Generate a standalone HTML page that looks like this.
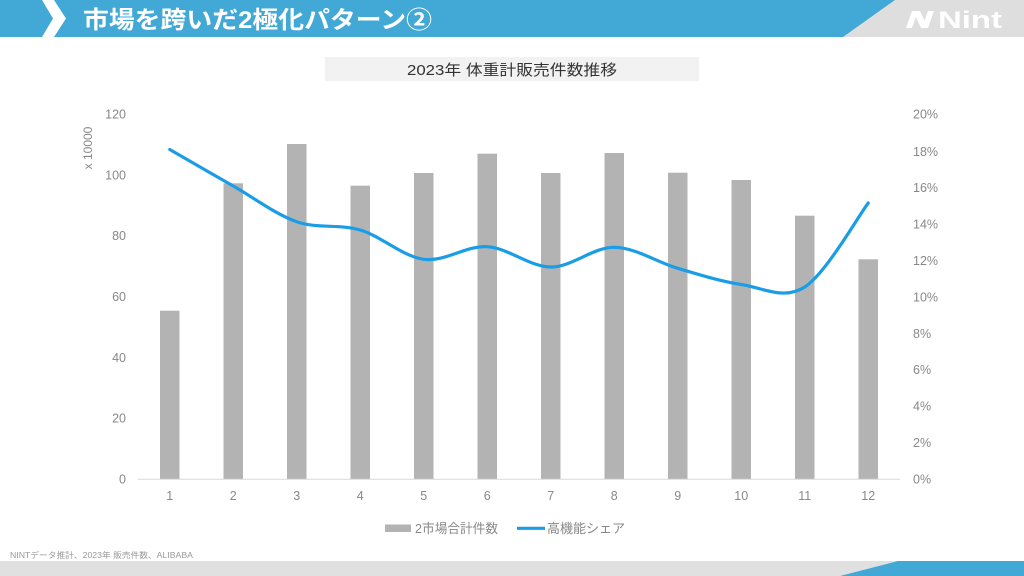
<!DOCTYPE html>
<html>
<head>
<meta charset="utf-8">
<style>
html,body{margin:0;padding:0;background:#fff;}
svg{display:block;}
text{font-family:"Liberation Sans","Noto Sans CJK JP",sans-serif;}
</style>
</head>
<body>
<svg width="1024" height="576" viewBox="0 0 1024 576" xmlns="http://www.w3.org/2000/svg">
  <!-- Header -->
  <rect x="0" y="0" width="1024" height="37" fill="#42a8d5"/>
  <polygon points="895,0 1024,0 1024,37 843,37" fill="#dedede"/>
  <polygon points="42,0 54,0 66,18.5 54,37 42,37 53,18.5" fill="#ffffff"/>
  <text x="83" y="28" font-size="24" font-weight="bold" fill="#ffffff" textLength="349" lengthAdjust="spacingAndGlyphs">市場を跨いだ2極化パターン②</text>
  <!-- Nint logo -->
  <g fill="#ffffff">
    <polygon points="906,28 912,11 918,11 912,28"/>
    <polygon points="913,11 920,11 928,28 921,28"/>
    <polygon points="922,28 928,11 934,11 928,28"/>
  </g>
  <text x="938" y="28" font-size="24" font-weight="bold" fill="#ffffff" textLength="64" lengthAdjust="spacingAndGlyphs">Nint</text>

  <!-- Chart title -->
  <rect x="325" y="57" width="374" height="24" fill="#f2f2f2"/>
  <text x="512" y="75" font-size="15" fill="#333333" text-anchor="middle" textLength="210" lengthAdjust="spacingAndGlyphs">2023年 体重計販売件数推移</text>

  <!-- Left axis labels -->
  <g font-size="12.5" fill="#888888" text-anchor="end">
    <text x="126" y="483.5">0</text>
    <text x="126" y="422.7">20</text>
    <text x="126" y="361.8">40</text>
    <text x="126" y="301">60</text>
    <text x="126" y="240.2">80</text>
    <text x="126" y="179.3">100</text>
    <text x="126" y="118.5">120</text>
  </g>
  <text transform="translate(92,148) rotate(-90)" font-size="12" fill="#888888" text-anchor="middle">x 10000</text>

  <!-- Right axis labels -->
  <g font-size="12.5" fill="#888888" text-anchor="start">
    <text x="913" y="483.5">0%</text>
    <text x="913" y="447">2%</text>
    <text x="913" y="410.6">4%</text>
    <text x="913" y="374.2">6%</text>
    <text x="913" y="337.8">8%</text>
    <text x="913" y="301.4">10%</text>
    <text x="913" y="265">12%</text>
    <text x="913" y="228.6">14%</text>
    <text x="913" y="192.2">16%</text>
    <text x="913" y="155.8">18%</text>
    <text x="913" y="118.5">20%</text>
  </g>

  <!-- Bars -->
  <g fill="#b3b3b3">
    <rect x="160" y="310.7" width="19.5" height="168.3"/>
    <rect x="223.5" y="183.3" width="19.5" height="295.7"/>
    <rect x="287" y="144" width="19.5" height="335"/>
    <rect x="350.5" y="185.7" width="19.5" height="293.3"/>
    <rect x="414" y="173" width="19.5" height="306"/>
    <rect x="477.5" y="153.7" width="19.5" height="325.3"/>
    <rect x="541" y="173" width="19.5" height="306"/>
    <rect x="604.5" y="153" width="19.5" height="326"/>
    <rect x="668" y="172.7" width="19.5" height="306.3"/>
    <rect x="731.5" y="180" width="19.5" height="299"/>
    <rect x="795" y="215.7" width="19.5" height="263.3"/>
    <rect x="858.5" y="259.3" width="19.5" height="219.7"/>
  </g>

  <!-- Baseline -->
  <line x1="138" y1="479.2" x2="900" y2="479.2" stroke="#d9d9d9" stroke-width="1"/>

  <!-- X labels -->
  <g font-size="12.5" fill="#888888" text-anchor="middle">
    <text x="169.75" y="500">1</text>
    <text x="233.25" y="500">2</text>
    <text x="296.75" y="500">3</text>
    <text x="360.25" y="500">4</text>
    <text x="423.75" y="500">5</text>
    <text x="487.25" y="500">6</text>
    <text x="550.75" y="500">7</text>
    <text x="614.25" y="500">8</text>
    <text x="677.75" y="500">9</text>
    <text x="741.25" y="500">10</text>
    <text x="804.75" y="500">11</text>
    <text x="868.25" y="500">12</text>
  </g>

  <!-- Line -->
  <path d="M169.75,149.5 C180.33,155.58 212.08,173.97 233.25,186
           C254.42,198.03 275.58,214.37 296.75,221.7
           C317.92,229.03 339.08,223.73 360.25,230
           C381.42,236.27 402.58,256.52 423.75,259.3
           C444.92,262.08 466.08,245.42 487.25,246.7
           C508.42,247.98 529.58,266.9 550.75,267
           C571.92,267.1 593.08,247.08 614.25,247.3
           C635.42,247.52 656.58,262.1 677.75,268.3
           C698.92,274.5 720.08,281.38 741.25,284.5
           C762.42,287.62 783.58,300.58 804.75,287
           C825.92,273.42 857.67,217 868.25,203"
        fill="none" stroke="#1a9de6" stroke-width="3.2" stroke-linecap="round" stroke-linejoin="round"/>

  <!-- Legend -->
  <rect x="385" y="524.5" width="26" height="7.5" fill="#b3b3b3"/>
  <text x="415" y="533" font-size="13" fill="#888888" textLength="83" lengthAdjust="spacingAndGlyphs">2市場合計件数</text>
  <line x1="517" y1="528.3" x2="545" y2="528.3" stroke="#1a9de6" stroke-width="3.2"/>
  <text x="547" y="533" font-size="13" fill="#888888" textLength="78" lengthAdjust="spacingAndGlyphs">高機能シェア</text>

  <!-- Footer -->
  <text x="10" y="558" font-size="8" fill="#999999" textLength="183" lengthAdjust="spacingAndGlyphs">NINTデータ推計、2023年 販売件数、ALIBABA</text>
  <rect x="0" y="561" width="1024" height="15" fill="#e0e0e0"/>
  <polygon points="898,561 1024,561 1024,576 840,576" fill="#42a8d5"/>
</svg>
</body>
</html>
